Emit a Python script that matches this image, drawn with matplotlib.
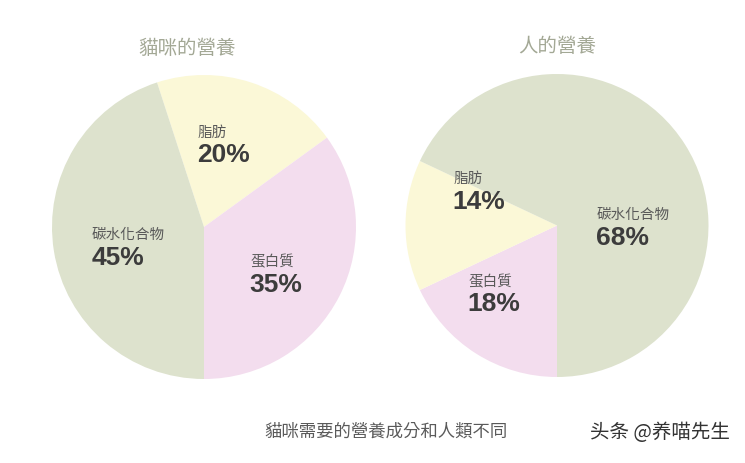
import matplotlib
matplotlib.use("Agg")
import matplotlib.pyplot as plt

# ---- data ----
cat_categories = ["脂肪", "蛋白質", "碳水化合物"]
cat_values = [20, 35, 45]
human_categories = ["蛋白質", "脂肪", "碳水化合物"]
human_values = [18, 14, 68]
titles = ["貓咪的營養", "人的營養"]
caption = "貓咪需要的營養成分和人類不同"
watermark = "头条 @养喵先生"

colors = {"脂肪": "#fbf8d7", "蛋白質": "#f3ddee", "碳水化合物": "#dde2cd"}

plt.rcParams['font.family'] = ['Noto Sans CJK TC', 'DejaVu Sans']

fig = plt.figure(figsize=(7.45, 4.64), dpi=100)
fig.patch.set_facecolor("white")

ax1 = fig.add_axes([52/745, 84/464, 304/745, 304/464])
ax2 = fig.add_axes([405.5/745, 86/464, 303/745, 303/464])

ax1.pie(cat_values, colors=[colors[c] for c in cat_categories],
        startangle=108, counterclock=False, radius=1,
        wedgeprops=dict(linewidth=0))
ax2.pie(human_values, colors=[colors[c] for c in human_categories],
        startangle=-90, counterclock=False, radius=1,
        wedgeprops=dict(linewidth=0))

for ax in (ax1, ax2):
    ax.set_xlim(-1, 1)
    ax.set_ylim(-1, 1)
    ax.set_aspect("equal")
    ax.axis("off")

label_pos1 = {"脂肪": (-0.04, 0.625, 0.48),
              "碳水化合物": (-0.737, -0.046, -0.197),
              "蛋白質": (0.303, -0.224, -0.375)}
label_pos2 = {"脂肪": (-0.686, 0.314, 0.162),
              "碳水化合物": (0.264, 0.076, -0.076),
              "蛋白質": (-0.587, -0.366, -0.512)}

def annotate(ax, cats, vals, pos):
    for c, v in zip(cats, vals):
        x, yl, yp = pos[c]
        ax.text(x, yl, c, ha="left", va="center", fontsize=10.5,
                color="#595959", family=['Noto Sans CJK TC', 'DejaVu Sans'])
        ax.text(x - 0.005, yp, f"{v}%", ha="left", va="center", fontsize=19,
                fontweight="bold", color="#3c3c3c", family="Liberation Sans")

annotate(ax1, cat_categories, cat_values, label_pos1)
annotate(ax2, human_categories, human_values, label_pos2)

fig.text(187/745, 1 - 48/464, titles[0], ha="center", va="center",
         fontsize=14, color="#a3a895", fontweight="light")
fig.text(557/745, 1 - 47/464, titles[1], ha="center", va="center",
         fontsize=14, color="#a3a895", fontweight="light")

fig.text(386/745, 1 - 432/464, caption, ha="center", va="center",
         fontsize=12.5, color="#5a5a5a")
fig.text(660/745, 1 - 433/464, watermark, ha="center", va="center",
         fontsize=14, color="#333333",
         family=['Noto Sans CJK SC', 'DejaVu Sans'])

fig.savefig("out.png", dpi=100, facecolor="white")
